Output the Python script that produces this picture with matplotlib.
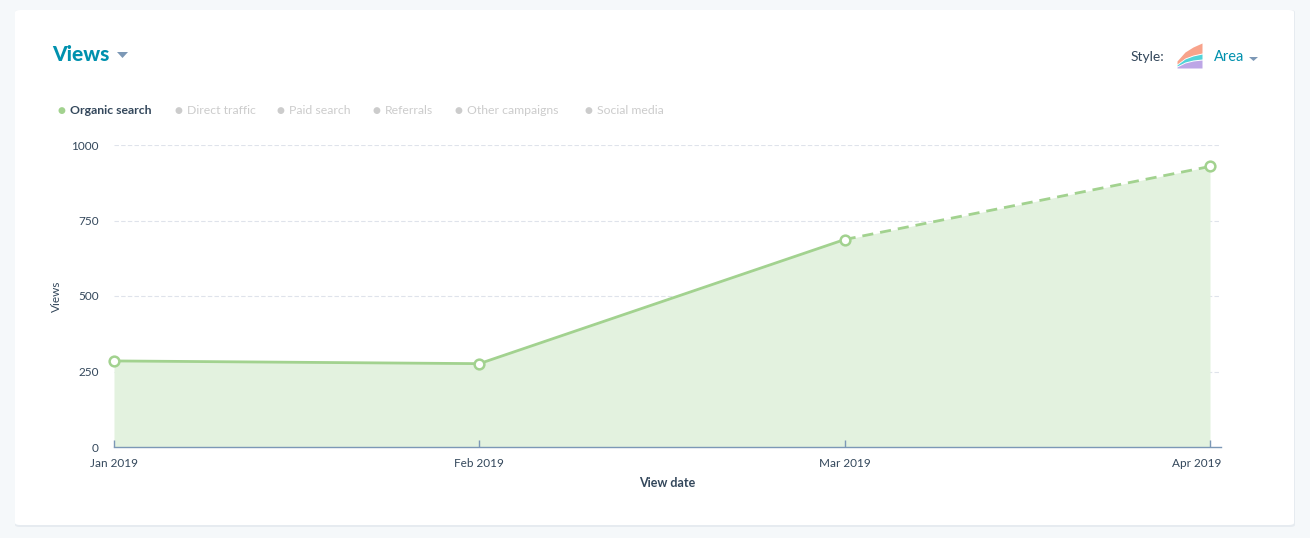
import matplotlib
matplotlib.use("Agg")
import matplotlib.pyplot as plt
from matplotlib.patches import FancyBboxPatch, Polygon
from matplotlib.transforms import ScaledTranslation
import numpy as np

months = ["Jan 2019", "Feb 2019", "Mar 2019", "Apr 2019"]
views = [285, 276, 687, 929]
yticks = [0, 250, 500, 750, 1000]
legend_items = ["Organic search", "Direct traffic", "Paid search", "Referrals",
                "Other campaigns", "Social media"]

W, H = 1310, 538
plt.rcParams['font.family'] = ['Lato', 'DejaVu Sans']
fig = plt.figure(figsize=(W / 100, H / 100), dpi=100)
fig.patch.set_facecolor("#f5f8fa")

def fx(px):
    return px / W

def fy(py):
    return 1 - py / H

# card with faint shadow
shadow = FancyBboxPatch((fx(15), fy(527)), fx(1280), (517) / H,
                        boxstyle="round,pad=0,rounding_size=0.004",
                        transform=fig.transFigure, facecolor="#e6ebf0",
                        edgecolor="none", zorder=-3)
fig.patches.append(shadow)
card = FancyBboxPatch((fx(15), fy(525)), fx(1279), (515) / H,
                      boxstyle="round,pad=0,rounding_size=0.004",
                      transform=fig.transFigure, facecolor="white",
                      edgecolor="none", zorder=-2)
fig.patches.append(card)

DARK = "#33475b"
TEAL = "#0091ae"
GREEN = "#a2d28f"
FILL = "#e3f2df"
GRAY_TXT = "#cccccc"
GRAY_DOT = "#cccccc"

ax = fig.add_axes([fx(114), fy(447), fx(1221 - 114), (447 - 145) / H])
ax.set_facecolor("none")
ax.patch.set_alpha(0)
x = np.arange(len(months))
ax.fill_between(x, views, 0, color=FILL, zorder=1, linewidth=0)
ax.plot(x[:3], views[:3], color=GREEN, lw=2, zorder=3, solid_capstyle="round")
ax.plot(x[2:], views[2:], color=GREEN, lw=2, zorder=3, linestyle=(0, (4, 2.5)))
ax.plot(x, views, linestyle="none", marker="o", ms=7, mfc="white", mec=GREEN,
        mew=1.8, zorder=4, clip_on=False)

ax.set_xlim(0, 3 * (1221 - 114) / (1210 - 114))
ax.set_ylim(0, 1000)
ax.set_yticks(yticks)
ax.set_yticklabels([str(v) for v in yticks])
ax.set_xticks(x)
ax.set_xticklabels(months)
for v in yticks[1:]:
    ax.axhline(v, color="#dfe3eb", lw=0.8, linestyle=(0, (4, 2)), zorder=0.5)

for s in ["top", "right", "left"]:
    ax.spines[s].set_visible(False)
ax.spines["bottom"].set_color("#7c98b6")
ax.spines["bottom"].set_linewidth(1)
ax.tick_params(axis="y", length=0, pad=11, labelsize=8.5, labelcolor=DARK)
ax.tick_params(axis="x", direction="in", length=5, color="#7c98b6", width=1,
               pad=8, labelsize=8.5, labelcolor=DARK)
last = ax.get_xticklabels()[-1]
last.set_ha("right")
last.set_transform(last.get_transform() + ScaledTranslation(0.115, 0, fig.dpi_scale_trans))
ax.set_xlabel("View date", fontsize=9, fontweight="bold", color=DARK, labelpad=6)
ax.set_ylabel("Views", fontsize=8.5, color=DARK, labelpad=7)

# title
fig.text(fx(52), fy(55), "Views", fontsize=15, fontweight="black", color=TEAL,
         va="center", ha="left")
tri = Polygon([[fx(117), fy(52)], [fx(128), fy(52)], [fx(122.5), fy(58)]],
              closed=True, transform=fig.transFigure, facecolor="#7c98b6",
              edgecolor="none")
fig.patches.append(tri)

# style selector
fig.text(fx(1131), fy(57), "Style:", fontsize=10, color=DARK, va="center", ha="left")
fig.text(fx(1214), fy(57), "Area", fontsize=10.5, color=TEAL, va="center", ha="left")
tri2 = Polygon([[fx(1249), fy(57)], [fx(1258), fy(57)], [fx(1253.5), fy(61)]],
               closed=True, transform=fig.transFigure, facecolor="#7c98b6",
               edgecolor="none")
fig.patches.append(tri2)
iax = fig.add_axes([fx(1177), fy(68), fx(25), 25 / H])
iax.set_xlim(0, 25)
iax.set_ylim(0, 25)
iax.axis("off")
ix = np.array([0, 8, 16, 25])
top_s = np.array([7, 16, 21, 25])
mid_s = np.array([4, 10, 13, 15])
low_s = np.array([2, 6, 8, 9])
iax.fill_between(ix, mid_s, top_s, color="#f8a38b", lw=0)
iax.fill_between(ix, low_s, mid_s - 1, color="#51d3d9", lw=0)
iax.fill_between(ix, 0, low_s - 1, color="#bda6e6", lw=0)

# legend
positions = [61, 178, 280, 376, 458, 588]
for i, (name, px) in enumerate(zip(legend_items, positions)):
    col_dot = GREEN if i == 0 else GRAY_DOT
    col_txt = DARK if i == 0 else GRAY_TXT
    fig.text(fx(px), fy(110), "\u25cf", fontsize=6.5, color=col_dot,
             va="center", ha="center", family="DejaVu Sans")
    fig.text(fx(px + 9), fy(110), name, fontsize=8.8, color=col_txt,
             va="center", ha="left", fontweight="bold" if i == 0 else "normal")

fig.savefig("out.png", dpi=100, facecolor=fig.get_facecolor())
